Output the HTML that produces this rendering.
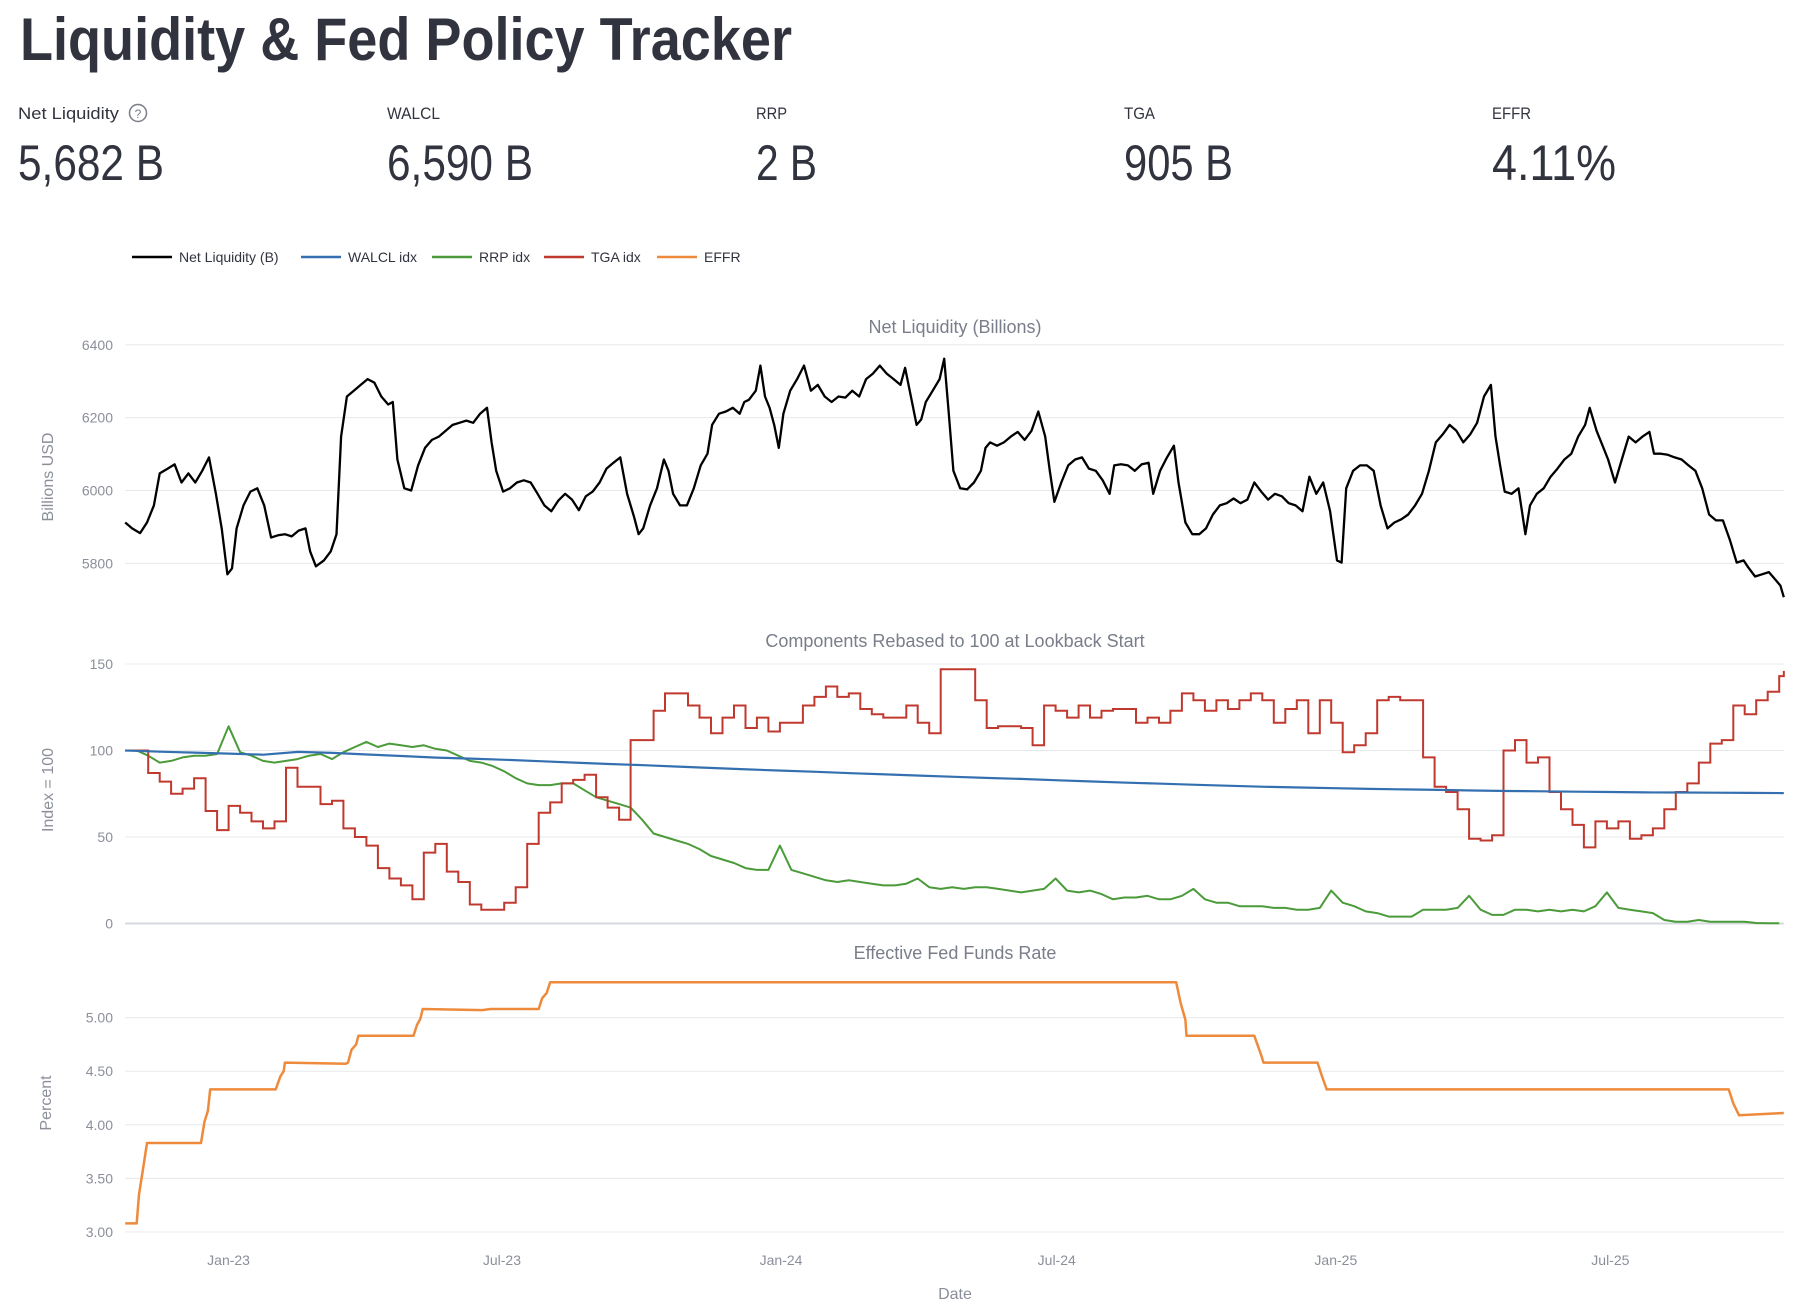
<!DOCTYPE html>
<html><head><meta charset="utf-8"><title>Liquidity & Fed Policy Tracker</title>
<style>
html,body{margin:0;padding:0;background:#fff;}
svg{display:block;font-family:"Liberation Sans",sans-serif;}
</style></head>
<body>
<svg id="root" width="1801" height="1314" viewBox="0 0 1801 1314" xmlns="http://www.w3.org/2000/svg">
<text x="20" y="60" font-size="60" font-weight="bold" fill="#31333f" textLength="772" lengthAdjust="spacingAndGlyphs">Liquidity &amp; Fed Policy Tracker</text>
<g>
<text x="18" y="119" font-size="17" fill="#31333f" textLength="101" lengthAdjust="spacingAndGlyphs">Net Liquidity</text>
<g><circle cx="138" cy="113" r="8.5" fill="none" stroke="#7a7d88" stroke-width="1.5"/><text x="138" y="118" font-size="12" fill="#7a7d88" text-anchor="middle">?</text></g>
<text x="18" y="180" font-size="50" fill="#31333f" textLength="146" lengthAdjust="spacingAndGlyphs">5,682 B</text>
</g>
<g>
<text x="387" y="119" font-size="17" fill="#31333f" textLength="53" lengthAdjust="spacingAndGlyphs">WALCL</text>
<text x="387" y="180" font-size="50" fill="#31333f" textLength="146" lengthAdjust="spacingAndGlyphs">6,590 B</text>
</g>
<g>
<text x="756" y="119" font-size="17" fill="#31333f" textLength="31" lengthAdjust="spacingAndGlyphs">RRP</text>
<text x="756" y="180" font-size="50" fill="#31333f" textLength="61" lengthAdjust="spacingAndGlyphs">2 B</text>
</g>
<g>
<text x="1124" y="119" font-size="17" fill="#31333f" textLength="31" lengthAdjust="spacingAndGlyphs">TGA</text>
<text x="1124" y="180" font-size="50" fill="#31333f" textLength="109" lengthAdjust="spacingAndGlyphs">905 B</text>
</g>
<g>
<text x="1492" y="119" font-size="17" fill="#31333f" textLength="39" lengthAdjust="spacingAndGlyphs">EFFR</text>
<text x="1492" y="180" font-size="50" fill="#31333f" textLength="124" lengthAdjust="spacingAndGlyphs">4.11%</text>
</g>
<g id="legend"></g>
<g id="charts"></g>
</svg>
<script>
// ---- data (t = weeks since start of lookback) ----
const dateTicks = ["Jan-23","Jul-23","Jan-24","Jul-24","Jan-25","Jul-25"];
const dateTickT = [9.0,32.8,57.1,81.1,105.4,129.3];
const nlT = [0,0.6,1.3,1.9,2.5,3.0,3.7,4.3,4.9,5.5,6.1,6.7,7.3,7.9,8.4,8.9,9.3,9.7,10.3,10.9,11.5,12.1,12.7,13.3,13.9,14.5,15.1,15.7,16.1,16.6,17.3,17.9,18.4,18.8,19.3,19.9,20.5,21.1,21.7,22.3,22.9,23.3,23.7,24.3,24.9,25.5,26.1,26.7,27.3,27.9,28.5,29.1,29.7,30.3,30.9,31.5,31.9,32.3,32.9,33.5,34.1,34.7,35.3,35.9,36.5,37.1,37.7,38.3,38.9,39.5,40.1,40.7,41.3,41.9,42.5,43.1,43.7,44.3,44.7,45.1,45.7,46.3,46.9,47.3,47.7,48.3,48.9,49.5,50.1,50.7,51.1,51.7,52.3,52.9,53.5,53.9,54.3,54.9,55.3,55.7,56.1,56.5,56.9,57.3,57.9,58.5,59.1,59.7,60.3,60.9,61.5,62.1,62.7,63.3,63.9,64.5,65.1,65.7,66.3,66.9,67.5,67.9,68.5,68.9,69.3,69.7,70.3,70.9,71.3,71.7,72.1,72.7,73.3,73.9,74.5,74.9,75.3,75.9,76.5,77.1,77.7,78.3,78.9,79.5,80.1,80.5,80.9,81.5,82.1,82.7,83.3,83.9,84.5,85.1,85.7,86.1,86.7,87.3,87.9,88.5,89.1,89.5,90.1,90.7,91.3,91.7,92.3,92.9,93.5,94.1,94.7,95.3,95.9,96.5,97.1,97.7,98.3,98.9,99.5,100.1,100.7,101.3,101.9,102.5,103.1,103.7,104.3,104.9,105.5,105.9,106.3,106.9,107.5,108.1,108.7,109.3,109.9,110.5,111.1,111.7,112.3,112.9,113.5,114.1,114.7,115.3,115.9,116.5,117.1,117.7,118.3,118.9,119.3,119.7,120.1,120.7,121.3,121.9,122.3,122.9,123.5,124.1,124.7,125.3,125.9,126.5,127.1,127.5,128.1,128.7,129.1,129.7,130.3,130.9,131.5,132.1,132.7,133.1,133.7,134.3,134.9,135.5,136.1,136.7,137.3,137.9,138.5,139.1,139.7,140.3,140.9,141.3,141.9,142.5,143.1,143.7,144.1,144.4];
const nlV = [5912,5896,5883,5912,5959,6047,6060,6072,6022,6047,6022,6054,6091,5991,5896,5770,5786,5896,5959,5997,6006,5959,5871,5877,5880,5874,5890,5896,5833,5792,5808,5833,5880,6148,6258,6274,6290,6306,6296,6258,6236,6243,6085,6006,6000,6069,6117,6139,6148,6164,6180,6186,6192,6186,6211,6227,6132,6054,5997,6006,6022,6028,6022,5991,5959,5943,5972,5991,5975,5946,5984,5997,6022,6060,6076,6091,5991,5928,5880,5896,5959,6006,6085,6054,5991,5959,5959,6006,6069,6101,6180,6211,6217,6227,6211,6243,6249,6274,6343,6258,6227,6180,6117,6211,6274,6306,6343,6274,6290,6258,6243,6258,6255,6274,6258,6306,6321,6343,6321,6306,6290,6337,6243,6180,6195,6243,6274,6306,6362,6211,6054,6006,6003,6022,6054,6117,6132,6123,6132,6148,6161,6139,6164,6217,6148,6054,5969,6022,6069,6085,6091,6060,6054,6028,5991,6069,6072,6069,6054,6072,6076,5991,6054,6091,6123,6022,5912,5880,5880,5896,5934,5959,5965,5978,5965,5975,6022,5997,5975,5991,5984,5965,5959,5943,6038,5991,6022,5943,5808,5802,6006,6054,6069,6069,6054,5959,5896,5912,5921,5934,5959,5991,6054,6132,6154,6180,6164,6132,6154,6186,6258,6290,6148,6069,5997,5991,6006,5880,5959,5991,6006,6038,6060,6085,6101,6148,6180,6227,6164,6117,6085,6022,6085,6148,6132,6148,6161,6101,6101,6098,6091,6085,6069,6054,6006,5934,5918,5918,5865,5802,5808,5789,5764,5770,5776,5754,5739,5707];
const walclV = [100,99.3,98.8,98.2,97.6,99.2,98.6,97.7,96.8,95.9,95.3,94.6,93.8,93.0,92.2,91.5,90.7,89.9,89.1,88.4,87.7,86.9,86.2,85.5,84.8,84.1,83.5,82.8,82.1,81.4,80.8,80.2,79.6,79.0,78.6,78.2,77.8,77.5,77.2,76.9,76.6,76.4,76.2,76.0,75.8,75.7,75.6,75.5,75.4];
const rrpV = [100,100,97,93,94,96,97,97,98,114,99,97,94,93,94,95,97,98,95,99,102,105,102,104,103,102,103,101,100,97,94,93,91,88,84,81,80,80,81,81,77,73,71,69,67,60,52,50,48,46,43,39,37,35,32,31,31,45,31,29,27,25,24,25,24,23,22,22,23,26,21,20,21,20,21,21,20,19,18,19,20,26,19,18,19,17,14,15,15,16,14,14,16,20,14,12,12,10,10,10,9,9,8,8,9,19,12,10,7,6,4,4,4,8,8,8,9,16,8,5,5,8,8,7,8,7,8,7,10,18,9,8,7,6,2,1,1,2,1,1,1,1,0.3,0.2,0.2];
const tgaV = [100,100,87,82,75,78,84,65,54,68,64,59,55,59,90,79,79,69,71,55,50,45,32,26,22,14,41,46,30,24,11,8,8,12,21,46,64,70,81,83,86,73,67,60,106,106,123,133,133,126,119,110,119,126,113,119,111,116,116,126,131,137,131,133,124,121,119,119,126,116,110,147,147,147,129,113,114,114,113,103,126,123,119,126,119,123,124,124,116,119,116,123,133,129,123,129,124,129,133,129,116,124,129,110,129,116,99,103,110,129,131,129,129,96,79,76,66,49,48,51,100,106,93,96,76,66,57,44,59,55,59,49,51,55,66,76,81,93,104,106,126,121,129,134,143,146];
const effrT = [0,1,1.2,1.5,1.9,6.6,6.9,7.2,7.4,13.1,13.5,13.8,13.9,19.2,19.4,19.7,20.1,20.3,25.1,25.4,25.7,25.9,31.1,31.8,36.0,36.3,36.7,37.0,91.5,91.9,92.3,92.4,98.3,98.9,99.1,103.8,104.2,104.6,139.6,140.0,140.5,144.4];
const effrV = [3.08,3.08,3.35,3.55,3.83,3.83,4.03,4.13,4.33,4.33,4.45,4.5,4.58,4.57,4.58,4.7,4.75,4.83,4.83,4.93,4.99,5.08,5.07,5.08,5.08,5.18,5.23,5.33,5.33,5.13,4.98,4.83,4.83,4.65,4.58,4.58,4.45,4.33,4.33,4.2,4.09,4.11];
const nlTicks = [5800,6000,6200,6400];
const idxTicks = [0,50,100,150];
const effrTicks = [3.0,3.5,4.0,4.5,5.0];
const tMax = 144.4;

// ---- scales ----
const X0 = 125.2, X1 = 1783.8;
const xS = t => X0 + t * (X1 - X0) / tMax;
const yNL = v => 490.5 - (v - 6000) * 0.3642;
const yIdx = v => 923.5 - v * 1.73;
const yEf = v => 1232 - (v - 3) * 107.2;

const NS = "http://www.w3.org/2000/svg";
const charts = document.getElementById("charts");
function mk(tag, attrs, parent) {
  const e = document.createElementNS(NS, tag);
  for (const k in attrs) e.setAttribute(k, attrs[k]);
  (parent || charts).appendChild(e);
  return e;
}
const grey = "#8b8f9a";

function panel(name, title, titleY, ticks, ys, fmt, axisTitle, axisY, axisX) {
  const g = mk("g", {});
  
  
  const tt = mk("text", {x: 955, y: titleY, "font-size": 18, fill: "#7a7e8a", "text-anchor": "middle"}, g);
  tt.textContent = title;
  
  
  ticks.forEach(v => {
    const y = ys(v);
    const gl = mk("line", {x1: X0, x2: X1, y1: y, y2: y, stroke: "#e6e8ec", "stroke-width": 1}, g);
    
    
    const lb = mk("text", {x: 113, y: y + 5, "font-size": 14, fill: grey, "text-anchor": "end"}, g);
    lb.textContent = fmt(v);
    
    
  });
  const at = mk("text", {x: axisX, y: axisY, "font-size": 16, fill: grey, "text-anchor": "middle", transform: `rotate(-90 ${axisX} ${axisY})`}, g);
  at.textContent = axisTitle;
  
  
  return g;
}
function linePath(ts, vs, ys) {
  return ts.map((t, i) => (i ? "L" : "M") + xS(t).toFixed(1) + " " + ys(vs[i]).toFixed(1)).join("");
}
function stepPath(vs, ys) {
  let d = "";
  vs.forEach((v, i) => {
    const x = xS(Math.min(i, tMax)), y = ys(v);
    if (i === 0) d += "M" + x.toFixed(1) + " " + y.toFixed(1);
    else d += "H" + x.toFixed(1) + "V" + y.toFixed(1);
  });
  d += "H" + xS(tMax).toFixed(1);
  return d;
}

// Panel 1
const p1 = panel("net-liquidity-panel", "Net Liquidity (Billions)", 333, nlTicks, yNL, v => String(v), "Billions USD", 477, 53);
const nl = mk("path", {d: linePath(nlT, nlV, yNL), fill: "none", stroke: "#000", "stroke-width": 2.3, "stroke-linejoin": "round"}, p1);



// Panel 2
const p2 = panel("components-panel", "Components Rebased to 100 at Lookback Start", 647, idxTicks, yIdx, v => String(v), "Index = 100", 790, 53);
const zl = mk("line", {x1: X0, x2: X1, y1: yIdx(0), y2: yIdx(0), stroke: "#d5d8de", "stroke-width": 2}, p2);


const walT = walclV.map((_, i) => i * tMax / (walclV.length - 1));
const rrpT = rrpV.map((_, i) => Math.min(i, tMax));
const rp = mk("path", {d: linePath(rrpT, rrpV, yIdx), fill: "none", stroke: "#4b9b3a", "stroke-width": 2, "stroke-linejoin": "round"}, p2);


const tg = mk("path", {d: stepPath(tgaV, yIdx), fill: "none", stroke: "#c0392f", "stroke-width": 2}, p2);


const wl = mk("path", {d: linePath(walT, walclV, yIdx), fill: "none", stroke: "#3470b0", "stroke-width": 2.2}, p2);



// Panel 3
const p3 = panel("effr-panel", "Effective Fed Funds Rate", 959, effrTicks, yEf, v => v.toFixed(2), "Percent", 1103, 51);
const ef = mk("path", {d: linePath(effrT, effrV, yEf), fill: "none", stroke: "#ee8a3c", "stroke-width": 2.5, "stroke-linejoin": "round"}, p3);



// X axis
const xa = mk("g", {});


dateTicks.forEach((lab, i) => {
  const t = mk("text", {x: xS(dateTickT[i]), y: 1265, "font-size": 14, fill: grey, "text-anchor": "middle"}, xa);
  t.textContent = lab;
  
  
});
const xt = mk("text", {x: 955, y: 1299, "font-size": 16, fill: grey, "text-anchor": "middle"}, xa);
xt.textContent = "Date";



// Legend
const legend = document.getElementById("legend");
const legNames = ["Net Liquidity (B)","WALCL idx","RRP idx","TGA idx","EFFR"];
const legColors = ["#000","#3470b0","#4b9b3a","#c0392f","#ee8a3c"];
const legX = [132,301,432,544,657];
legNames.forEach((n, i) => {
  const g = mk("g", {}, legend);
  
  
  mk("line", {x1: legX[i], x2: legX[i] + 40, y1: 257, y2: 257, stroke: legColors[i], "stroke-width": 2.5}, g);
  const t = mk("text", {x: legX[i] + 47, y: 262, "font-size": 14, fill: "#31333f"}, g);
  t.textContent = n;
});
</script>
</body></html>
